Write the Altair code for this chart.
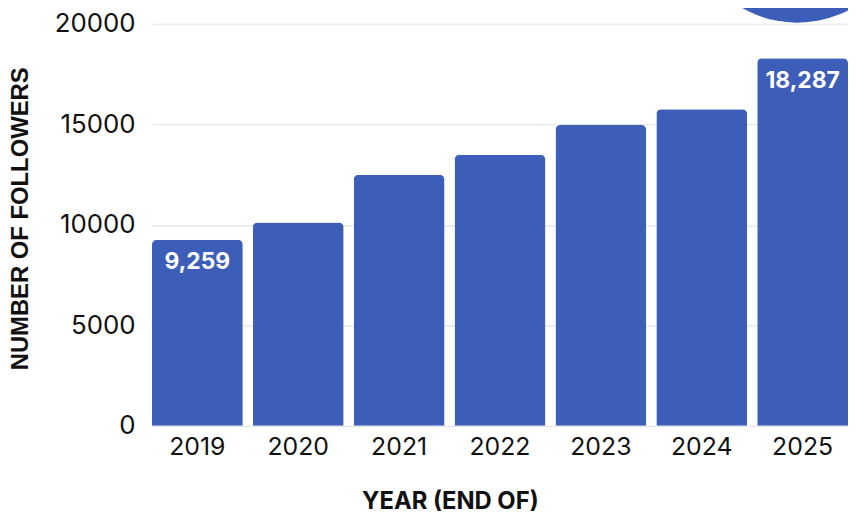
import altair as alt
import pandas as pd

years = ["2019", "2020", "2021", "2022", "2023", "2024", "2025"]
followers = [9259, 10120, 12490, 13480, 14960, 15750, 18287]
label_years = ["2019", "2025"]
y_ticks = [0, 5000, 10000, 15000, 20000]

df = pd.DataFrame({"year": years, "followers": followers})
df["label"] = [f"{v:,}" if y in label_years else "" for y, v in zip(years, followers)]

BLUE = "#3D5EB8"

x_enc = alt.X(
    "year:O",
    sort=years,
    scale=alt.Scale(paddingInner=0.1, paddingOuter=0),
    axis=alt.Axis(
        title="YEAR (END OF)",
        labelAngle=0,
        labelFont="Inter",
        labelFontSize=25,
        labelColor="#111111",
        labelPadding=9,
        ticks=False,
        domain=False,
        titleFont="Inter",
        titleFontSize=24,
        titleFontWeight="bold",
        titleColor="#111111",
        titleX=300,
        titleY=76,
        titleAlign="center",
        titleBaseline="middle",
    ),
)

y_enc = alt.Y(
    "followers:Q",
    scale=alt.Scale(domain=[0, 20000]),
    axis=alt.Axis(
        title="NUMBER OF FOLLOWERS",
        values=y_ticks,
        format="d",
        labelFont="Inter",
        labelFontSize=26,
        labelColor="#111111",
        labelPadding=17,
        ticks=False,
        domain=False,
        grid=True,
        gridColor="#e4e4e4",
        gridWidth=1.2,
        titleFont="Liberation Sans",
        titleFontSize=24,
        titleFontWeight="bold",
        titleColor="#111111",
        titleAngle=270,
        titleX=-132,
        titleY=196,
        titleAlign="center",
        titleBaseline="middle",
    ),
)

bars = alt.Chart(df).mark_bar(
    color=BLUE, cornerRadiusTopLeft=5, cornerRadiusTopRight=5
).encode(x=x_enc, y=y_enc)

labels = alt.Chart(df).transform_filter(
    alt.FieldOneOfPredicate(field="year", oneOf=label_years)
).mark_text(
    color="white", font="Inter", fontWeight="bold", fontSize=23,
    baseline="alphabetic", dy=30
).encode(x=alt.X("year:O", sort=years), y="followers:Q", text="label:N")

circle = alt.Chart(pd.DataFrame({"d": [1]})).mark_arc(
    color=BLUE, clip=False
).encode(
    x=alt.value(650),
    y=alt.value(-112),
    theta=alt.value(0),
    theta2=alt.value(6.2832),
    radius=alt.value(111),
)

chart = alt.layer(bars, labels, circle).properties(
    width=701,
    height=405,
    background="white",
    autosize=alt.AutoSizeParams(type="none"),
    padding={"left": 145, "top": 14, "right": 0, "bottom": 97},
).configure_view(stroke=None)

chart.save("out.html", embed_options={"renderer": "svg", "actions": False})
